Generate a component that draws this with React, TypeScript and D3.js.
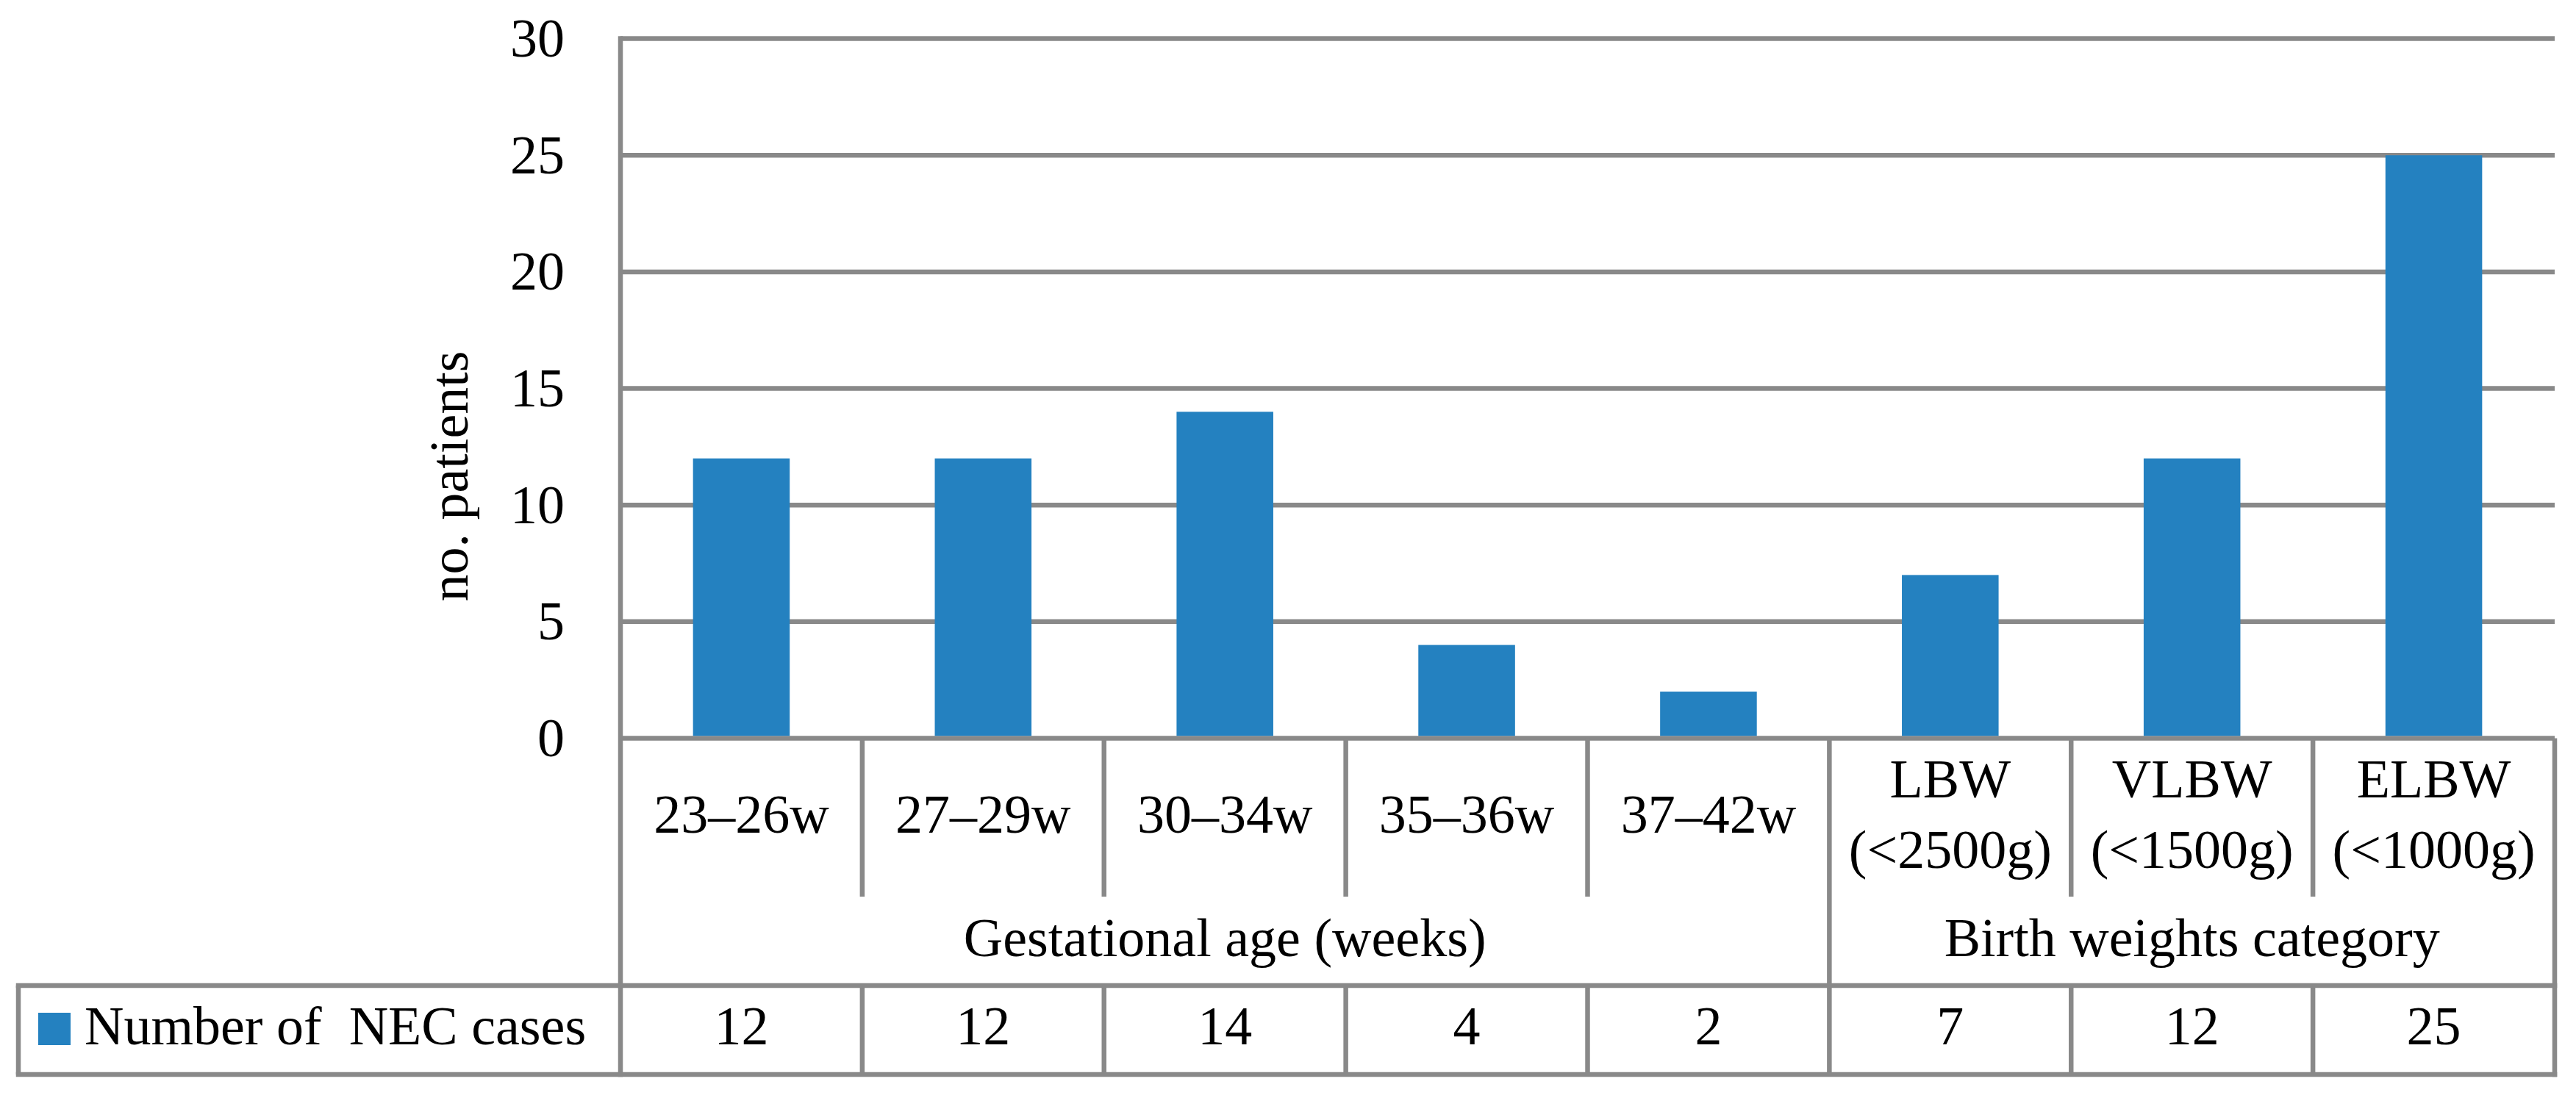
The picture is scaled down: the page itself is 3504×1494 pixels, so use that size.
import React from 'react';
import * as d3 from 'd3';

// chart data
const categories = ['23–26w', '27–29w', '30–34w', '35–36w', '37–42w', 'LBW\n(<2500g)', 'VLBW\n(<1500g)', 'ELBW\n(<1000g)'];
const necCases = [12, 12, 14, 4, 2, 7, 12, 25];
const groupLabels = ['Gestational age (weeks)', 'Birth weights category'];
const groupSizes = [5, 3];
const yTicks = [0, 5, 10, 15, 20, 25, 30];
const seriesName = 'Number of  NEC cases';
const yAxisTitle = 'no. patients';

const W = 3504;
const H = 1494;

// layout
const plotLeft = 844;
const plotRight = 3475;
const plotTop = 52.6;
const plotBottom = 1004.5;
const catRowBottom = 1220;
const groupRowBottom = 1341;
const tableBottom = 1462;
const tableLeft = 25;

const GRID = '#898989';
const BAR = '#2481c0';
const SW = 6.5;
const FONT = '"Liberation Serif", "Times New Roman", serif';
const FS = 74;

const App: React.FC = () => {
  const y = d3.scaleLinear().domain([0, 30]).range([plotBottom, plotTop]);
  const xCell = d3.scaleBand<string>().domain(categories).range([plotLeft, plotRight]).padding(0);
  const xBar = d3.scaleBand<string>().domain(categories).range([plotLeft, plotRight])
    .paddingInner(0.6).paddingOuter(0.3);
  const step = xCell.step();

  // group boundaries (in category index)
  const groupStarts = groupSizes.map((_, i) => d3.sum(groupSizes.slice(0, i)));

  return (
    <svg width={W} height={H} style={{ position: 'absolute', left: 0, top: 0, background: '#fff' }}
      fontFamily={FONT} fontSize={FS}>
      <rect x={0} y={0} width={W} height={H} fill="#fff" />

      {/* gridlines */}
      {yTicks.map(t => (
        <line key={'g' + t} x1={plotLeft} x2={plotRight} y1={y(t)} y2={y(t)} stroke={GRID} strokeWidth={SW} />
      ))}

      {/* bars */}
      {categories.map((c, i) => (
        <rect key={'b' + c} x={xBar(c)} y={y(necCases[i])} width={xBar.bandwidth()}
          height={y(0) - y(necCases[i]) - SW / 2} fill={BAR} />
      ))}

      {/* y tick labels */}
      {yTicks.map(t => (
        <text key={'t' + t} x={768} y={y(t)} dy="0.33em" textAnchor="end" fill="#000">{t}</text>
      ))}

      {/* y axis title */}
      <text transform={`translate(636,648) rotate(-90)`} textAnchor="middle" fill="#000">{yAxisTitle}</text>

      {/* axis line down through table */}
      <line x1={plotLeft} x2={plotLeft} y1={plotTop - SW / 2} y2={tableBottom + SW / 2} stroke={GRID} strokeWidth={SW} />
      {/* right border of table */}
      <line x1={plotRight} x2={plotRight} y1={plotBottom} y2={tableBottom + SW / 2} stroke={GRID} strokeWidth={SW} />

      {/* cell separators */}
      {categories.slice(1).map((c, i) => {
        const idx = i + 1;
        const x = xCell(c) as number;
        const isGroupEdge = groupStarts.includes(idx);
        return isGroupEdge ? (
          <line key={'s' + c} x1={x} x2={x} y1={plotBottom} y2={tableBottom} stroke={GRID} strokeWidth={SW} />
        ) : (
          <g key={'s' + c}>
            <line x1={x} x2={x} y1={plotBottom} y2={catRowBottom} stroke={GRID} strokeWidth={SW} />
            <line x1={x} x2={x} y1={groupRowBottom} y2={tableBottom} stroke={GRID} strokeWidth={SW} />
          </g>
        );
      })}

      {/* table horizontal lines */}
      <line x1={tableLeft - SW / 2} x2={plotRight + SW / 2} y1={groupRowBottom} y2={groupRowBottom} stroke={GRID} strokeWidth={SW} />
      <line x1={tableLeft - SW / 2} x2={plotRight + SW / 2} y1={tableBottom} y2={tableBottom} stroke={GRID} strokeWidth={SW} />
      <line x1={tableLeft} x2={tableLeft} y1={groupRowBottom} y2={tableBottom} stroke={GRID} strokeWidth={SW} />

      {/* category labels */}
      {categories.map(c => {
        const lines = c.split('\n');
        const cx = (xCell(c) as number) + step / 2;
        const base = 1133 - (lines.length - 1) * 48;
        return (
          <text key={'c' + c} x={cx} textAnchor="middle" fill="#000">
            {lines.map((l, j) => (
              <tspan key={j} x={cx} y={base + j * 96}>{l}</tspan>
            ))}
          </text>
        );
      })}

      {/* group labels */}
      {groupLabels.map((g, i) => {
        const start = plotLeft + groupStarts[i] * step;
        const end = start + groupSizes[i] * step;
        return (
          <text key={'gl' + g} x={(start + end) / 2} y={1301} textAnchor="middle" fill="#000">{g}</text>
        );
      })}

      {/* legend key + data row */}
      <rect x={52} y={1378} width={44} height={44} fill={BAR} />
      <text x={115} y={1421} fill="#000" style={{ whiteSpace: 'pre' }}>{seriesName}</text>
      {categories.map((c, i) => (
        <text key={'v' + c} x={(xCell(c) as number) + step / 2} y={1421} textAnchor="middle" fill="#000">{necCases[i]}</text>
      ))}
    </svg>
  );
};

export default App;
